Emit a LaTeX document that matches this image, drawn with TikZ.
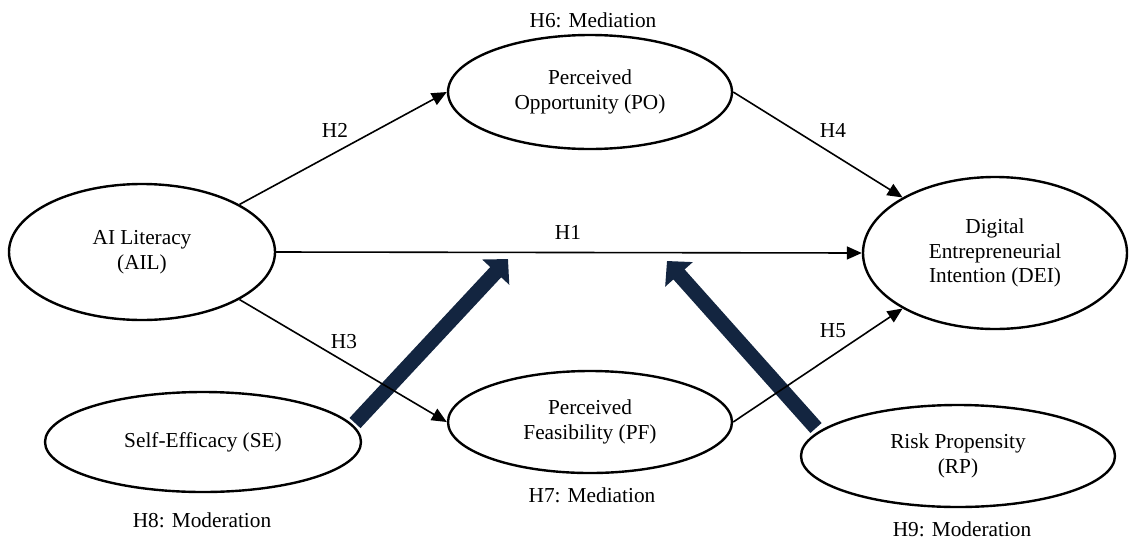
\documentclass[tikz,border=0pt]{standalone}
\usepackage{fontspec}
\setmainfont{Liberation Serif}
\usetikzlibrary{shapes.geometric,arrows.meta}
\definecolor{navy}{RGB}{19,37,64}
\tikzset{
  construct/.style={ellipse, draw=black, line width=2.4pt, inner sep=0pt, align=center, fill=white},
  conn/.style={draw=black, line width=1.6pt, -{Triangle[length=15pt,width=13pt]}},
  modarrow/.style={draw=navy, line width=15pt, -{Triangle[length=18pt,width=36pt]}},
  lbl/.style={inner sep=0pt},
}
\begin{document}
\begin{tikzpicture}[x=1pt,y=-1pt,font=\rmfamily\fontsize{21.3}{24.8}\selectfont]
\useasboundingbox (0,0) rectangle (1130,539);
% constructs
\node[construct, minimum width=266pt, minimum height=136pt] (AIL) at (142,252) {AI Literacy\\(AIL)};
\node[construct, minimum width=284pt, minimum height=114pt] (PO) at (590,92) {Perceived\\Opportunity (PO)};
\node[construct, minimum width=284pt, minimum height=102pt] (PF) at (590,422) {Perceived\\Feasibility (PF)};
\node[construct, minimum width=264pt, minimum height=152pt] (DEI) at (995,253) {Digital\\Entrepreneurial\\Intention (DEI)};
\node[construct, minimum width=316pt, minimum height=100pt] (SE) at (203,442) {Self-Efficacy (SE)};
\node[construct, minimum width=314pt, minimum height=102pt] (RP) at (958,456) {Risk Propensity\\(RP)};
% moderation arrows
\coordinate (SEtail) at (355,423);
\coordinate (SEtip) at (508,259);
\coordinate (RPtail) at (816,428);
\coordinate (RPtip) at (667,261);
\draw[modarrow] (SEtail) -- (SEtip);
\draw[modarrow] (RPtail) -- (RPtip);
% paths
\draw[conn] (AIL.east) -- (DEI.west);
\draw[conn] (AIL.26) -- (PO.west);
\draw[conn] (AIL.-26) -- (PF.west);
\draw[conn] (PO.east) -- (DEI.149);
\draw[conn] (PF.east) -- (DEI.211);
% labels
\node[lbl] (h1) at (568,232) {H1};
\node[lbl] (h2) at (335,130) {H2};
\node[lbl] (h3) at (344,342) {H3};
\node[lbl] (h4) at (833,130) {H4};
\node[lbl] (h5) at (833,331) {H5};
\node[lbl] (h6) at (593,20) {H6: Mediation};
\node[lbl] (h7) at (592,495) {H7: Mediation};
\node[lbl] (h8) at (202,520) {H8: Moderation};
\node[lbl] (h9) at (962,529) {H9: Moderation};
\end{tikzpicture}
\end{document}
